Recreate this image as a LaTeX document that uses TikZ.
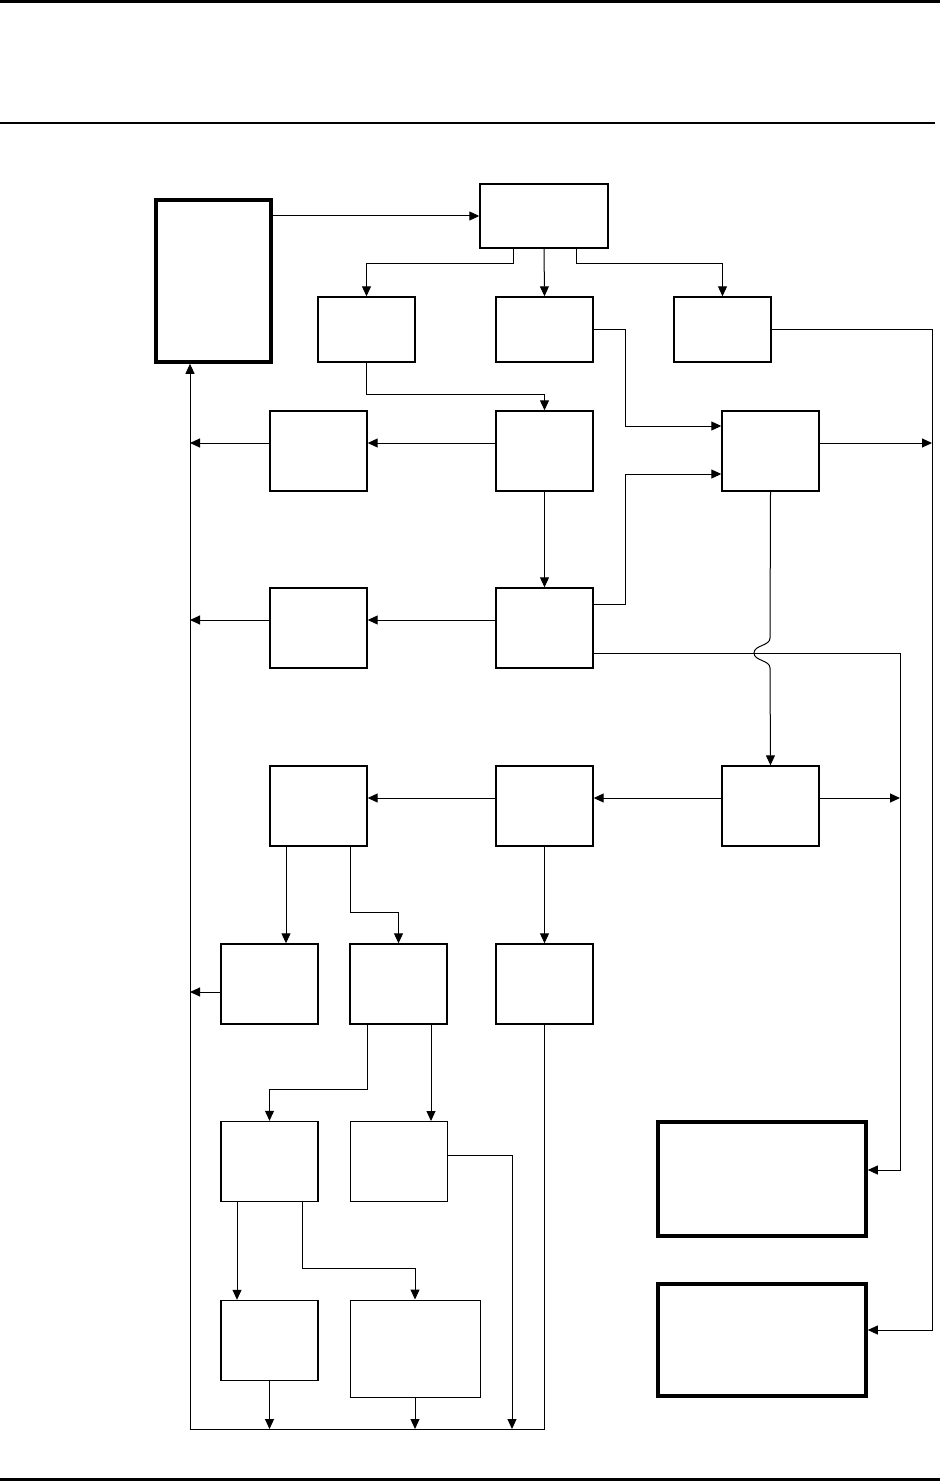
\documentclass[tikz,border=0pt]{standalone}
\usepackage{tikz}
\usetikzlibrary{arrows.meta}

\tikzset{
  box/.style={draw,line width=0.7pt,minimum width=48.5pt,minimum height=40pt,inner sep=0pt},
  flatbox/.style={box,minimum height=32.5pt},
  heavybox/.style={draw,line width=1.8pt,inner sep=0pt},
  link/.style={line width=0.5pt},
  arr/.style={link,-{Triangle[length=5pt,width=4.5pt]}}
}

\begin{document}
\begin{tikzpicture}[x=0.5pt,y=-0.5pt]

\useasboundingbox (0,0) rectangle (940,1482);

\draw[line width=1.5pt] (0,1.5) -- (940,1.5);
\draw[line width=0.6pt] (0,123) -- (935,123);
\draw[line width=1.5pt] (0,1479) -- (940,1479);

% boxes
\node[heavybox,minimum width=57.5pt,minimum height=81pt] (a) at (213.5,281) {};
\node[box,minimum width=64pt,minimum height=32pt] (b) at (544,216) {};

\node[flatbox] (c1) at (366.5,329.5) {};
\node[flatbox] (c2) at (544.5,329.5) {};
\node[flatbox] (c3) at (722.5,329.5) {};

\node[box] (d1) at (318.5,451) {};
\node[box] (d2) at (544.5,451) {};
\node[box] (d3) at (770.5,451) {};

\node[box] (e1) at (318.5,628) {};
\node[box] (e2) at (544.5,628) {};

\node[box] (f1) at (318.5,806) {};
\node[box] (f2) at (544.5,806) {};
\node[box] (f3) at (770.5,806) {};

\node[box] (g1) at (269.5,984) {};
\node[box] (g2) at (398.5,984) {};
\node[box] (g3) at (544.5,984) {};

\node[box] (h1) at (269.5,1161.5) {};
\node[box,line width=0.5pt] (h2) at (398.5,1161.5) {};

\node[box] (i1) at (269.5,1340.5) {};
\node[box,line width=0.5pt,minimum width=65pt,minimum height=48.5pt] (i2) at (415,1348.5) {};

\node[heavybox,minimum width=104pt,minimum height=57pt] (j1) at (762,1179) {};
\node[heavybox,minimum width=104pt,minimum height=56pt] (j2) at (762,1340) {};

% top part
\draw[arr] (a.east |- b.west) -- (b.west);
\draw[arr] (513,0 |- b.south) -- (513,264) -| (c1.north);
\draw[arr] (b.south) -- (c2.north);
\draw[arr] (576,0 |- b.south) -- (576,264) -| (c3.north);

\draw[arr] (c1.south) -- (c1.south |- 0,394) -| (d2.north);
\draw[arr] (c2.east) -- (625,0 |- c2.east) |- (d3.west |- 0,426);
\draw[arr] (c3.east) -- (932,0 |- c3.east) |- (j2.east |- 0,1330);

\draw[arr] (d3.east |- 0,443) -- (932,443);
\draw[arr] (d2.west |- 0,443) -- (d1.east |- 0,443);
\draw[arr] (d1.west |- 0,443) -- (190,443);
\draw[arr] (d2.south) -- (e2.north);

\draw[arr] (e2.east |- 0,604) -- (625,604) |- (d3.west |- 0,474);
\draw[arr] (e2.east |- 0,653) -- (900,653) |- (j1.east |- 0,1170);
\draw[arr] (e2.west |- 0,620) -- (e1.east |- 0,620);
\draw[arr] (e1.west |- 0,620) -- (190,620);

% hop over the line from e2
\draw[arr] (d3.south) -- (770,638) .. controls (770,646) and (754,645) .. (754,653)
  .. controls (754,661) and (770,660) .. (770,668) -- (f3.north);

% middle part
\draw[arr] (f3.west |- 0,798) -- (f2.east |- 0,798);
\draw[arr] (f2.west |- 0,798) -- (f1.east |- 0,798);
\draw[arr] (f3.east |- 0,798) -- (900,798);

\draw[arr] (286,0 |- f1.south) -- (286,0 |- g1.north);
\draw[arr] (350,0 |- f1.south) -- (350,912) -| (g2.north);
\draw[arr] (f2.south) -- (g3.north);
\draw[arr] (g1.west |- 0,992) -- (190,992);

\draw[arr] (367,0 |- g2.south) -- (367,1089) -| (h1.north);
\draw[arr] (431,0 |- g2.south) -- (431,0 |- h2.north);
\draw[arr] (h2.east |- 0,1155) -- (512,1155) -- (512,1429);

% return bus
\draw[arr] (g3.south) -- (g3.south |- 0,1429) -- (190,1429) -- (190,0 |- a.south);

\draw[arr] (237,0 |- h1.south) -- (237,0 |- i1.north);
\draw[arr] (302,0 |- h1.south) -- (302,1268) -| (i2.north);
\draw[arr] (i1.south) -- (i1.south |- 0,1429);
\draw[arr] (i2.south) -- (i2.south |- 0,1429);

\end{tikzpicture}
\end{document}
